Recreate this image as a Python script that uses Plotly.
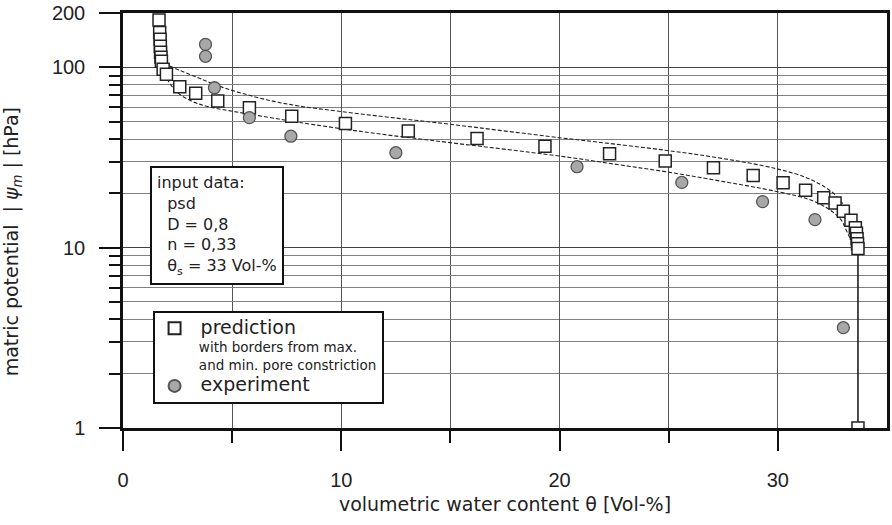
import plotly.graph_objects as go

# ---------------- data ----------------
pred_theta = [1.65, 1.68, 1.70, 1.71, 1.72, 1.74, 1.76, 1.84, 1.99, 2.6, 3.33, 4.34, 5.79, 7.73,
              10.19, 13.07, 16.22, 19.33, 22.29, 24.84, 27.05, 28.87, 30.24, 31.27, 32.1, 32.62,
              33.0, 33.35, 33.55, 33.6, 33.63, 33.65, 33.67, 33.67]
pred_psi = [183, 156, 143, 131, 121, 113.6, 108, 97.5, 91.4, 78.1, 71.7, 65, 59.7, 53.6,
            48.8, 44.3, 40.3, 36.5, 33.2, 30.2, 27.7, 25.1, 22.9, 20.8, 18.9, 17.7,
            15.9, 14.2, 12.9, 12.0, 11.2, 10.5, 9.9, 1.0]

drop_theta = [33.67, 33.67]
drop_psi = [9.9, 1.0]

exp_theta = [3.78, 3.78, 4.19, 5.79, 7.69, 12.5, 20.8, 25.6, 29.3, 31.7, 33.0]
exp_psi = [134, 115, 77, 52.6, 41.5, 33.6, 28.1, 23.0, 18.0, 14.3, 3.6]

upper_theta = [1.69, 2.00, 2.60, 3.51, 4.56, 5.79, 6.92, 8.06, 9.89, 12.62, 14.99, 20.0, 21.73,
               24.83, 27.2, 29.93, 31.43, 32.53, 33.04, 33.26, 33.44, 33.65]
upper_psi = [110.8, 103.9, 96.2, 86.9, 77.4, 69.9, 64.7, 61.0, 57.0, 52.1, 48.3, 40.7, 38.5,
             34.7, 31.6, 27.4, 24.1, 20.1, 17.0, 14.3, 11.8, 10.0]

lower_theta = [1.69, 1.87, 2.14, 2.60, 3.28, 3.96, 5.33, 6.70, 8.06, 11.25, 14.99, 20.0, 22.64,
               24.83, 27.2, 29.93, 31.43, 32.35, 32.89, 33.12, 33.35, 33.65]
lower_psi = [106.6, 95.0, 81.5, 70.8, 63.9, 60.3, 56.2, 52.7, 49.5, 43.5, 38.2, 32.2, 28.9,
             26.4, 23.6, 20.5, 18.5, 16.3, 14.3, 12.6, 11.1, 10.0]

x_major = [0, 10, 20, 30]
x_minor = [5, 15, 25]
y_major = [1, 10, 100, 200]
y_labels = ["1", "10", "100", "200"]
y_minor = [2, 3, 4, 5, 6, 7, 8, 9, 20, 30, 40, 50, 60, 70, 80, 90]

FONT = "DejaVu Sans, Verdana, sans-serif"
TICKFONT = "Liberation Sans, Arial, sans-serif"
TXT = "#222"

fig = go.Figure()

dash_line = dict(color="#222", width=1.1, dash="4px,2px")
fig.add_trace(go.Scatter(x=upper_theta, y=upper_psi, mode="lines", line=dash_line,
                         line_shape="spline", showlegend=False, hoverinfo="skip"))
fig.add_trace(go.Scatter(x=lower_theta, y=lower_psi, mode="lines", line=dash_line,
                         line_shape="spline", showlegend=False, hoverinfo="skip"))
fig.add_trace(go.Scatter(x=drop_theta, y=drop_psi, mode="lines",
                         line=dict(color="#111", width=1.5),
                         showlegend=False, hoverinfo="skip"))

fig.add_trace(go.Scatter(
    x=pred_theta, y=pred_psi, mode="markers",
    name=("<span style='font-size:19px'>&nbsp;prediction</span><br>"
          "<span style='font-size:13.5px'>&nbsp;with borders from max.<br>"
          "&nbsp;and min. pore constriction</span>"),
    marker=dict(symbol="square", size=12, color="white", line=dict(color="#222", width=1.5))))
fig.add_trace(go.Scatter(
    x=exp_theta, y=exp_psi, mode="markers",
    name="<span style='font-size:19px'>&nbsp;experiment</span>",
    marker=dict(symbol="circle", size=12, color="#a8a8a8", line=dict(color="#555", width=1.3))))

fig.update_layout(
    width=892, height=525, autosize=False,
    margin=dict(l=123, r=2, t=13, b=97),
    paper_bgcolor="white", plot_bgcolor="white",
    font=dict(family=FONT, color=TXT, size=17),
    legend=dict(x=0.0387, y=0.2827, xanchor="left", yanchor="top",
                bgcolor="white", bordercolor="#111", borderwidth=2,
                font=dict(size=14, family=FONT, color=TXT),
                valign="top", tracegroupgap=0, itemsizing="constant"),
    showlegend=True,
)

fig.update_xaxes(
    range=[0, 35], tickvals=x_major, ticks="outside", ticklen=20, tickwidth=2, tickcolor="#111",
    showline=True, linewidth=2.5, linecolor="#111", mirror=True,
    showgrid=True, gridcolor="#555", gridwidth=1,
    minor=dict(tickvals=x_minor, ticks="outside", ticklen=12, tickwidth=2, tickcolor="#111",
               showgrid=True, gridcolor="#555", gridwidth=1),
    tickfont=dict(size=20, family=TICKFONT, color=TXT), ticklabelstandoff=12,
    title=dict(text="volumetric water content θ [Vol-%]", font=dict(size=19, family=FONT, color=TXT), standoff=8),
    zeroline=False,
)
fig.update_yaxes(
    type="log", range=[0, 2.30103], tickvals=y_major, ticktext=y_labels,
    ticks="outside", ticklen=21, tickwidth=2, tickcolor="#111",
    showline=True, linewidth=2.5, linecolor="#111", mirror=True,
    showgrid=True, gridcolor="#444", gridwidth=1,
    minor=dict(tickvals=y_minor, ticks="outside", ticklen=11, tickwidth=2, tickcolor="#111",
               showgrid=True, gridcolor="#808080", gridwidth=1),
    tickfont=dict(size=20, family=TICKFONT, color=TXT), ticklabelstandoff=10,
    title=dict(text="matric potential  | <i>ψ<sub>m</sub></i> | [hPa]" + "&nbsp;" * 7,
               font=dict(size=19, family=FONT, color=TXT), standoff=30),
    zeroline=False,
)

fig.add_annotation(
    xref="paper", yref="paper", x=0.0352, y=0.631, xanchor="left", yanchor="top",
    text=("input data:<br>&nbsp;&nbsp;psd<br>&nbsp;&nbsp;D = 0,8<br>&nbsp;&nbsp;n = 0,33<br>"
          "&nbsp;&nbsp;θ<sub>s</sub> = 33 Vol-%"),
    align="left", showarrow=False, font=dict(size=16, family=FONT, color=TXT),
    bgcolor="white", bordercolor="#111", borderwidth=2, borderpad=5,
)

fig.write_html("out.html")
